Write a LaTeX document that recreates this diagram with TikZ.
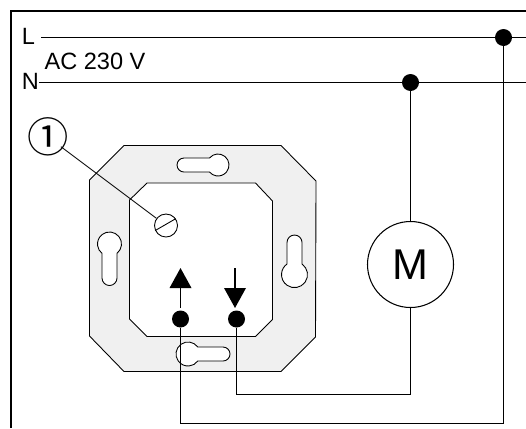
\documentclass[tikz,border=0pt]{standalone}
\usepackage{fontspec}
\setmainfont{Liberation Sans}
\newfontfamily\symfont{Noto Sans CJK SC}
\usetikzlibrary{arrows.meta}

\colorlet{plate}{black!6}

\tikzset{
  wire/.style={line width=0.6pt},
  edge line/.style={line width=0.5pt},
  pin/.style={circle, fill, inner sep=0pt, minimum size=0.34cm},
  dirarrow/.style={line width=1.1pt, -{Triangle[length=0.4cm, width=0.43cm]}},
  txt/.style={inner sep=0pt, font=\fontsize{13.4}{16}\selectfont},
}

\begin{document}
\begin{tikzpicture}
  \useasboundingbox (0, 0) rectangle (10.52, 8.56);
  % outer frame
  \coordinate (framea) at (0.22, 0);
  \coordinate (frameb) at (0.22, 8.34);
  \coordinate (framec) at (10.52, 8.34);
  \draw[line width=1.2pt, line cap=butt] (framea) -- (frameb) -- (framec);
  % mounting plate
  \draw[edge line, fill=plate] (2.48, 5.65) -- (1.79, 4.96) -- (1.79, 1.84) -- (2.48, 1.13)
    -- (5.62, 1.13) -- (6.31, 1.82) -- (6.32, 4.94) -- (5.62, 5.65) -- cycle;
  \draw[edge line, fill=white] (2.94, 4.90) -- (2.59, 4.56) -- (2.59, 2.18) -- (2.94, 1.83)
    -- (5.11, 1.83) -- (5.45, 2.17) -- (5.45, 4.54) -- (5.11, 4.90) -- cycle;
  % keyholes
  \draw[edge line, fill=white] (4.19, 5.40) arc[start angle=140.5, end angle=-140.5, radius=0.22]
    -- (3.68, 5.12) arc[start angle=270, end angle=90, radius=0.14] -- cycle;
  \draw[edge line, fill=white] (3.955, 1.62) arc[start angle=35.7, end angle=324.3, radius=0.24]
    -- (4.46, 1.34) arc[start angle=270, end angle=450, radius=0.14] -- cycle;
  \draw[edge line, fill=white] (2.34, 3.493) arc[start angle=-51.3, end angle=231.3, radius=0.24]
    -- (2.04, 3.00) arc[start angle=180, end angle=360, radius=0.15] -- cycle;
  \draw[edge line, fill=white] (6.04, 3.28) arc[start angle=54.8, end angle=-234.8, radius=0.26]
    -- (5.74, 3.71) arc[start angle=180, end angle=0, radius=0.15] -- cycle;
  % labels
  \draw (0.57, 7.83) node[txt] (l) {L};
  \draw (0.61, 6.94) node[txt] (n) {N};
  \draw (1.90, 7.34) node[txt] (ac) {AC 230 V};
  \draw (0.96, 5.82) node[circle, inner sep=-5pt, font=\symfont\fontsize{23.5}{26}\selectfont] (num) {①};
  % screw
  \draw (3.32, 4.05) node[circle, draw, edge line, inner sep=0pt, minimum size=0.46cm] (screw) {};
  \draw[edge line] (screw.205) -- (screw.35);
  \draw[edge line] (num) -- (screw);
  % junctions and motor
  \draw (10.07, 7.81) node[pin] (ldot) {};
  \draw (8.21, 6.91)  node[pin] (ndot) {};
  \draw (3.61, 2.18)  node[pin] (updot) {};
  \draw (4.73, 2.18)  node[pin] (downdot) {};
  \draw (8.21, 3.27)  node[circle, draw, wire, inner sep=0pt, minimum size=1.72cm,
    font=\fontsize{24.5}{28}\selectfont] (motor) {M};
  \coordinate (lstart) at (0.82, 7.81);
  \coordinate (lend) at (10.52, 7.81);
  \coordinate (nstart) at (0.78, 6.91);
  \coordinate (nend) at (10.52, 6.91);
  \coordinate (lcorner) at (10.07, 0.09);
  \coordinate (mcorner) at (8.21, 0.67);
  \coordinate (upstart) at (3.61, 2.40);
  \coordinate (uptip) at (3.61, 3.20);
  \coordinate (downstart) at (4.70, 3.20);
  \coordinate (downtip) at (4.70, 2.40);
  % wires
  \draw[wire] (lstart) -- (lend);
  \draw[wire] (nstart) -- (nend);
  \draw[wire] (ldot) -- (lcorner) -| (updot);
  \draw[wire] (ndot) -- (motor);
  \draw[wire] (motor) -- (mcorner) -| (downdot);
  \draw[dirarrow] (upstart) -- (uptip);
  \draw[dirarrow] (downstart) -- (downtip);
\end{tikzpicture}
\end{document}
